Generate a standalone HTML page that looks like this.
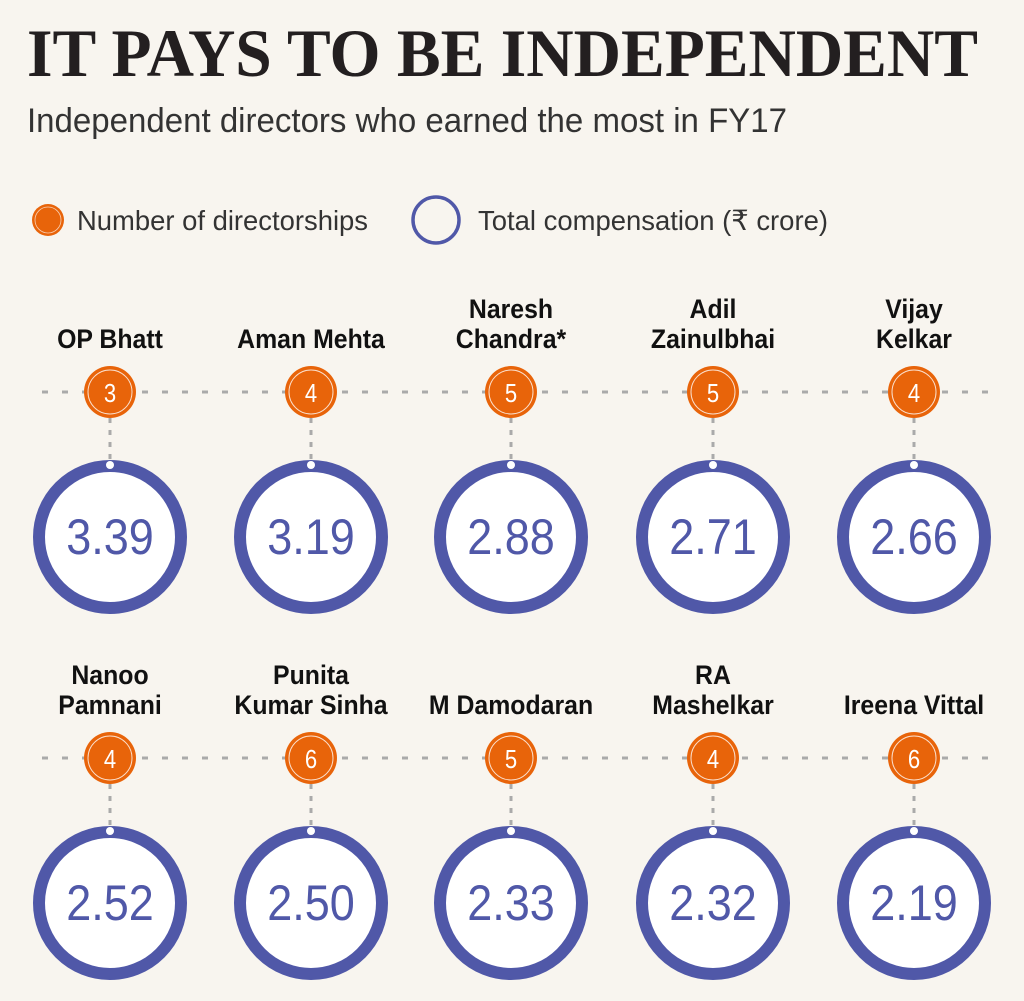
<!DOCTYPE html>
<html><head><meta charset="utf-8"><style>
html,body{margin:0;padding:0;background:#f8f5ef;}
svg{display:block;}
.nm{font-family:"Liberation Sans",sans-serif;font-weight:bold;font-size:27px;fill:#111;text-anchor:middle;}
.num{font-family:"Liberation Sans",sans-serif;font-size:50px;fill:#5058a8;text-anchor:middle;}
.on{font-family:"Liberation Sans",sans-serif;font-size:26px;fill:#fff;text-anchor:middle;}
</style></head><body>
<svg width="1024" height="1001" viewBox="0 0 1024 1001" xmlns="http://www.w3.org/2000/svg">
<rect width="1024" height="1001" fill="#f8f5ef"/>
<text x="27" y="76" font-family="Liberation Serif,serif" font-weight="bold" font-size="68" fill="#231f20" textLength="951" lengthAdjust="spacingAndGlyphs">IT PAYS TO BE INDEPENDENT</text>
<text x="27" y="132" font-family="Liberation Sans,sans-serif" font-size="34" fill="#333" textLength="760" lengthAdjust="spacingAndGlyphs">Independent directors who earned the most in FY17</text>
<circle cx="48" cy="220" r="16" fill="#e8640a"/>
<circle cx="48" cy="220" r="13" fill="none" stroke="#fff" stroke-width="0.8" opacity="0.7"/>
<text x="77" y="230" font-family="Liberation Sans,sans-serif" font-size="28" fill="#333" textLength="291" lengthAdjust="spacingAndGlyphs">Number of directorships</text>
<circle cx="436" cy="220" r="23" fill="none" stroke="#5058a8" stroke-width="3.5"/>
<text x="478" y="230" font-family="Liberation Sans,sans-serif" font-size="28" fill="#333" textLength="350" lengthAdjust="spacingAndGlyphs">Total compensation (₹ crore)</text>
<g stroke="#aaa" stroke-width="3" stroke-dasharray="6 14">
<line x1="42" y1="392" x2="990" y2="392"/>
<line x1="42" y1="758" x2="990" y2="758"/>
</g>
<g id="cols"></g>
</svg>
<script>
var xs=[110,311,511,713,914];
var rows=[
{oy:392,cy:537,nb:348,d:[[["OP Bhatt"],3,"3.39"],[["Aman Mehta"],4,"3.19"],[["Naresh","Chandra*"],5,"2.88"],[["Adil","Zainulbhai"],5,"2.71"],[["Vijay","Kelkar"],4,"2.66"]]},
{oy:758,cy:903,nb:714,d:[[["Nanoo","Pamnani"],4,"2.52"],[["Punita","Kumar Sinha"],6,"2.50"],[["M Damodaran"],5,"2.33"],[["RA","Mashelkar"],4,"2.32"],[["Ireena Vittal"],6,"2.19"]]}];
var s="";
function t(cls,x,y,txt,sx){return '<g transform="translate('+x+','+y+') scale('+sx+',1)"><text class="'+cls+'" x="0" y="0">'+txt+'</text></g>';}
rows.forEach(function(r){r.d.forEach(function(c,i){var x=xs[i];
var n=c[0];
if(n.length==1){s+=t("nm",x,r.nb,n[0],0.92);}
else{s+=t("nm",x,r.nb-30,n[0],0.92)+t("nm",x,r.nb,n[1],0.92);}
s+='<line x1="'+x+'" y1="'+(r.oy+26)+'" x2="'+x+'" y2="'+(r.cy-77)+'" stroke="#aaa" stroke-width="3" stroke-dasharray="5 7"/>';
s+='<circle cx="'+x+'" cy="'+r.oy+'" r="26" fill="#e8640a"/><circle cx="'+x+'" cy="'+r.oy+'" r="22" fill="none" stroke="#fff" stroke-width="1" opacity="0.8"/>';
s+=t("on",x,r.oy+10,c[1],0.85);
s+='<circle cx="'+x+'" cy="'+r.cy+'" r="71" fill="#fff" stroke="#5058a8" stroke-width="12"/>';
s+='<circle cx="'+x+'" cy="'+(r.cy-72)+'" r="4" fill="#fff"/>';
s+=t("num",x,r.cy+17,c[2],0.9);
});});
document.getElementById("cols").innerHTML=s;
</script>
</body></html>
